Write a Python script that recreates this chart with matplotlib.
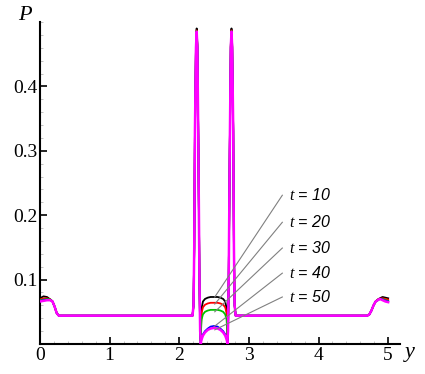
import matplotlib
matplotlib.use("Agg")
import matplotlib.pyplot as plt
import numpy as np
from matplotlib.ticker import MultipleLocator

plt.rcParams['mathtext.fontset'] = 'custom'
plt.rcParams['mathtext.it'] = 'Liberation Serif:italic'
plt.rcParams['mathtext.rm'] = 'Liberation Serif'

# ---------------- data ----------------
times = [10, 20, 30, 40, 50]
colors = ['#000000', '#ff0000', '#00c000', '#0000ff', '#ff00ff']

# left edge region
y_left = [0.0, 0.05, 0.10, 0.15, 0.18, 0.21, 0.24, 0.27, 0.30, 2.19]
P_left = {
    10: [0.071, 0.074, 0.073, 0.069, 0.066, 0.058, 0.048, 0.044, 0.044, 0.044],
    20: [0.069, 0.071, 0.071, 0.069, 0.066, 0.058, 0.048, 0.044, 0.044, 0.044],
    30: [0.068, 0.069, 0.070, 0.069, 0.066, 0.058, 0.048, 0.044, 0.044, 0.044],
    40: [0.067, 0.068, 0.069, 0.068, 0.066, 0.058, 0.048, 0.044, 0.044, 0.044],
    50: [0.066, 0.067, 0.068, 0.068, 0.066, 0.058, 0.048, 0.044, 0.044, 0.044],
}

# left spike
y_spk1 = [2.205, 2.215, 2.225, 2.24, 2.25, 2.26, 2.275, 2.29, 2.30]
P_spk1 = {
    10: [0.06, 0.15, 0.33, 0.465, 0.490, 0.465, 0.30, 0.10, 0.02],
    20: [0.06, 0.15, 0.33, 0.462, 0.487, 0.462, 0.30, 0.10, 0.02],
    30: [0.06, 0.15, 0.33, 0.461, 0.486, 0.461, 0.30, 0.10, 0.02],
    40: [0.06, 0.15, 0.33, 0.460, 0.485, 0.460, 0.30, 0.10, 0.02],
    50: [0.06, 0.15, 0.33, 0.460, 0.485, 0.460, 0.30, 0.10, 0.02],
}

# central bump
y_bump = [2.31, 2.312, 2.32, 2.34, 2.37, 2.41, 2.45, 2.50,
          2.55, 2.59, 2.63, 2.66, 2.68, 2.688, 2.69]
P_bump = {
    10: [0.0, 0.030, 0.055, 0.066, 0.070, 0.072, 0.073, 0.073,
         0.073, 0.072, 0.070, 0.066, 0.055, 0.030, 0.0],
    20: [0.0, 0.025, 0.048, 0.057, 0.061, 0.063, 0.064, 0.064,
         0.064, 0.063, 0.061, 0.057, 0.048, 0.025, 0.0],
    30: [0.0, 0.020, 0.038, 0.046, 0.050, 0.052, 0.053, 0.053,
         0.053, 0.052, 0.050, 0.046, 0.038, 0.020, 0.0],
    40: [0.0, 0.004, 0.009, 0.015, 0.020, 0.024, 0.027, 0.028,
         0.027, 0.024, 0.020, 0.015, 0.009, 0.004, 0.0],
    50: [0.0, 0.003, 0.007, 0.013, 0.018, 0.022, 0.024, 0.025,
         0.024, 0.022, 0.018, 0.013, 0.007, 0.003, 0.0],
}

# right spike (mirror of the left one)
y_spk2 = [2.70, 2.71, 2.725, 2.74, 2.75, 2.76, 2.775, 2.785, 2.795]
P_spk2 = {t: list(reversed(P_spk1[t])) for t in times}

# right edge region
y_right = [2.81, 4.70, 4.73, 4.76, 4.79, 4.82, 4.85, 4.88, 4.92, 4.96, 5.0]
P_right = {
    10: [0.044, 0.044, 0.046, 0.052, 0.060, 0.066, 0.069, 0.071, 0.073, 0.072, 0.071],
    20: [0.044, 0.044, 0.046, 0.052, 0.060, 0.066, 0.069, 0.070, 0.071, 0.070, 0.069],
    30: [0.044, 0.044, 0.046, 0.052, 0.060, 0.066, 0.068, 0.070, 0.070, 0.068, 0.067],
    40: [0.044, 0.044, 0.046, 0.052, 0.060, 0.066, 0.068, 0.070, 0.069, 0.067, 0.066],
    50: [0.044, 0.044, 0.046, 0.052, 0.060, 0.066, 0.068, 0.070, 0.068, 0.066, 0.065],
}

# annotation labels
label_x = 3.58
label_y = [0.231, 0.189, 0.149, 0.110, 0.073]
leader_start_x = 3.48
leader_end = [(2.51, 0.073), (2.51, 0.062), (2.51, 0.050), (2.50, 0.027), (2.51, 0.022)]

xticks = [0, 1, 2, 3, 4, 5]
yticks = [0.1, 0.2, 0.3, 0.4]

# ---------------- plot ----------------
fig = plt.figure(figsize=(4.25, 3.74), dpi=100)
ax = fig.add_axes([40/425, 1-344/374, 360/425, 322/374])

for t, c in zip(times, colors):
    yy = y_left + y_spk1 + y_bump + y_spk2 + y_right
    pp = P_left[t] + P_spk1[t] + P_bump[t] + P_spk2[t] + P_right[t]
    ax.plot(yy, pp, color=c, lw=1.8 if t == 50 else 1.3, zorder=3)

for t, ly, (ex, ey) in zip(times, label_y, leader_end):
    ax.plot([leader_start_x, ex], [ly, ey], color='#808080', lw=0.8, zorder=4)
    ax.text(label_x, ly, r"$t$ = %d" % t, family='Liberation Sans', style='italic',
            fontsize=11.5, va='center', ha='left')

ax.set_xlim(0, 5.17)
ax.set_ylim(0, 0.5)
ax.spines['top'].set_visible(False)
ax.spines['right'].set_visible(False)
ax.spines['left'].set_linewidth(1.5)
ax.spines['bottom'].set_linewidth(1.5)
ax.set_xticks(xticks)
ax.set_yticks(yticks)
ax.set_xticklabels([str(v) for v in xticks], family='Liberation Serif', fontsize=14)
ax.set_yticklabels([str(v) for v in yticks], family='Liberation Serif', fontsize=14)
ax.xaxis.set_minor_locator(MultipleLocator(0.2))
ax.yaxis.set_minor_locator(MultipleLocator(0.02))
ax.tick_params(which='major', direction='in', length=5, width=1.2, pad=2)
ax.tick_params(which='minor', direction='in', length=2, width=0.5, color='#aaaaaa')

fig.text(25/425, 1-15/374, 'P', family='Liberation Serif', style='italic',
         fontsize=16, ha='center', va='center')
fig.text(410/425, 1-352/374, 'y', family='Liberation Serif', style='italic',
         fontsize=16, ha='center', va='center')

fig.savefig('out.png', dpi=100)
